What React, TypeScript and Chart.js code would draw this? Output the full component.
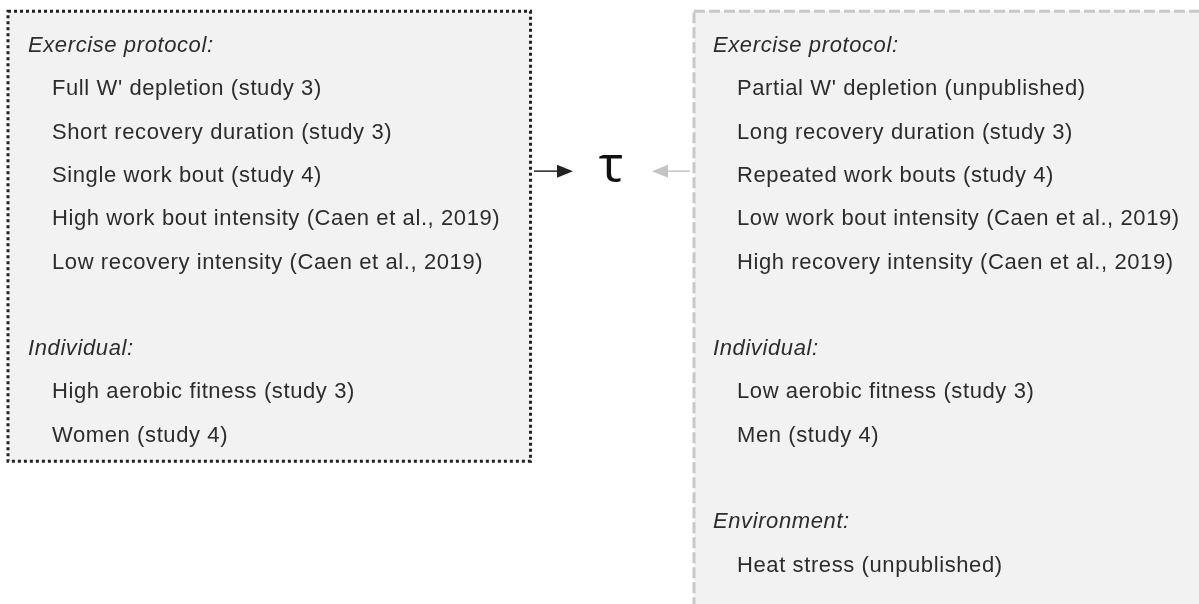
import React, { useEffect, useRef } from "react";
import { Chart, registerables } from "chart.js";
Chart.register(...registerables);

const headings = ["Exercise protocol:", "Individual:", "Environment:"];
const leftProtocol = [
  "Full W' depletion (study 3)",
  "Short recovery duration (study 3)",
  "Single work bout (study 4)",
  "High work bout intensity (Caen et al., 2019)",
  "Low recovery intensity (Caen et al., 2019)",
];
const leftIndividual = ["High aerobic fitness (study 3)", "Women (study 4)"];
const rightProtocol = [
  "Partial W' depletion (unpublished)",
  "Long recovery duration (study 3)",
  "Repeated work bouts (study 4)",
  "Low work bout intensity (Caen et al., 2019)",
  "High recovery intensity (Caen et al., 2019)",
];
const rightIndividual = ["Low aerobic fitness (study 3)", "Men (study 4)"];
const rightEnvironment = ["Heat stress (unpublished)"];
const centreSymbol = "τ";

type Row = { text: string; row: number; head: boolean };
function buildRows(groups: { head: string; items: string[] }[]): Row[] {
  const rows: Row[] = [];
  let r = 0;
  groups.forEach((g, gi) => {
    if (gi > 0) r += 1;
    rows.push({ text: g.head, row: r, head: true });
    r++;
    g.items.forEach((it) => {
      rows.push({ text: it, row: r, head: false });
      r++;
    });
  });
  return rows;
}

const leftRows = buildRows([
  { head: headings[0], items: leftProtocol },
  { head: headings[1], items: leftIndividual },
]);
const rightRows = buildRows([
  { head: headings[0], items: rightProtocol },
  { head: headings[1], items: rightIndividual },
  { head: headings[2], items: rightEnvironment },
]);

const FONT = '"Liberation Sans"';
const ROW_H = 43.3;
const Y0 = 46;

function toPoints(rows: Row[], headX: number, itemX: number) {
  return rows.map((r) => ({ x: r.head ? headX : itemX, y: r.row, text: r.text, head: r.head }));
}

const diagramPlugin = {
  id: "diagram",
  beforeDatasetsDraw(chart: any) {
    const { ctx, scales } = chart;
    const xs = scales.x, ys = scales.y;
    const X = (v: number) => xs.getPixelForValue(v);
    const Y = (v: number) => ys.getPixelForValue(v);
    ctx.save();
    // left box
    const lx0 = X(8), lx1 = X(530.5), ly0 = Y(-0.8), ly1 = Y(9.59);
    ctx.fillStyle = "#f2f2f2";
    ctx.fillRect(lx0, ly0, lx1 - lx0, ly1 - ly0);
    ctx.strokeStyle = "#222";
    ctx.lineWidth = 3;
    ctx.setLineDash([3, 3]);
    ctx.strokeRect(lx0, ly0, lx1 - lx0, ly1 - ly0);
    // right box
    const rx0 = X(694), rx1 = X(1230), ry0 = Y(-0.8), ry1 = Y(14.5);
    ctx.setLineDash([]);
    ctx.fillStyle = "#f2f2f2";
    ctx.fillRect(rx0, ry0, rx1 - rx0, ry1 - ry0);
    ctx.strokeStyle = "#c8c8c8";
    ctx.lineWidth = 3;
    ctx.setLineDash([11, 4]);
    ctx.strokeRect(rx0, ry0, rx1 - rx0, ry1 - ry0);
    ctx.setLineDash([]);
    // arrows
    const ay = Y(2.89);
    ctx.strokeStyle = "#222";
    ctx.fillStyle = "#222";
    ctx.lineWidth = 1.5;
    ctx.beginPath();
    ctx.moveTo(X(534), ay);
    ctx.lineTo(X(562), ay);
    ctx.stroke();
    ctx.beginPath();
    ctx.moveTo(X(573), ay);
    ctx.lineTo(X(557), ay - 6.5);
    ctx.lineTo(X(557), ay + 6.5);
    ctx.closePath();
    ctx.fill();
    ctx.strokeStyle = "#c4c4c4";
    ctx.fillStyle = "#c4c4c4";
    ctx.beginPath();
    ctx.moveTo(X(664), ay);
    ctx.lineTo(X(690), ay);
    ctx.stroke();
    ctx.beginPath();
    ctx.moveTo(X(652), ay);
    ctx.lineTo(X(668), ay - 6.5);
    ctx.lineTo(X(668), ay + 6.5);
    ctx.closePath();
    ctx.fill();
    // tau
    ctx.fillStyle = "#111";
    ctx.font = `400 52px "Open Sans"`;
    ctx.textAlign = "center";
    ctx.textBaseline = "middle";
    ctx.fillText(centreSymbol, X(611), ay - 4);
    ctx.restore();
  },
  afterDatasetsDraw(chart: any) {
    const { ctx } = chart;
    ctx.save();
    ctx.textAlign = "left";
    ctx.textBaseline = "middle";
    ctx.fillStyle = "#2c2c2c";
    try { (ctx as any).letterSpacing = "0.6px"; } catch (e) {}
    chart.data.datasets.forEach((ds: any, i: number) => {
      const meta = chart.getDatasetMeta(i);
      meta.data.forEach((el: any, j: number) => {
        const p = ds.data[j];
        ctx.font = p.head ? `italic 400 22px ${FONT}` : `400 22px ${FONT}`;
        ctx.fillText(p.text, el.x, el.y);
      });
    });
    ctx.restore();
  },
};

export default function App() {
  const ref = useRef<HTMLCanvasElement | null>(null);
  useEffect(() => {
    if (!ref.current) return;
    const chart = new Chart(ref.current, {
      type: "scatter",
      data: {
        datasets: [
          { data: toPoints(leftRows, 28, 52) as any, pointRadius: 0 },
          { data: toPoints(rightRows, 713, 737) as any, pointRadius: 0 },
        ],
      },
      options: {
        responsive: false,
        animation: false,
        events: [],
        layout: { padding: 0 },
        plugins: { legend: { display: false }, tooltip: { enabled: false } },
        scales: {
          x: { type: "linear", min: 0, max: 1199, display: false },
          y: {
            type: "linear",
            reverse: true,
            min: -Y0 / ROW_H,
            max: -Y0 / ROW_H + 604 / ROW_H,
            display: false,
          },
        },
      },
      plugins: [diagramPlugin],
    });
    return () => chart.destroy();
  }, []);
  return (
    <div style={{ position: "fixed", left: 0, top: 0, width: 1199, height: 604, background: "#fff" }}>
      <canvas ref={ref} width={1199} height={604} style={{ display: "block" }} />
    </div>
  );
}
